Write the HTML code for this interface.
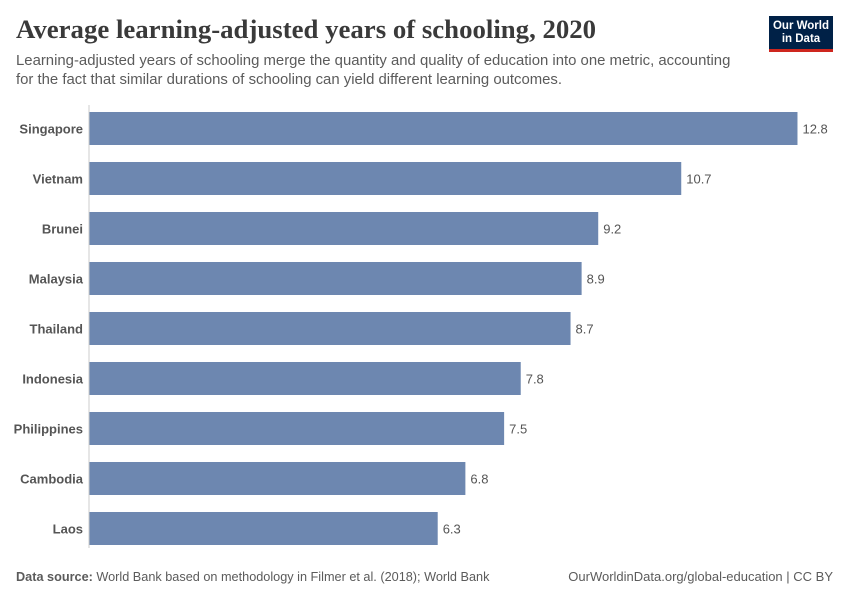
<!DOCTYPE html>
<html><head><meta charset="utf-8"><style>
body{margin:0;width:850px;height:600px;background:#fff;font-family:"Liberation Sans",sans-serif;position:relative;overflow:hidden}
.t{position:absolute;white-space:nowrap}
</style></head><body>
<div class="t" style="left:16px;top:14px;font-family:'Liberation Serif',serif;font-size:26.8px;font-weight:bold;color:#3a3a3a">Average learning-adjusted years of schooling, 2020</div>
<div class="t" style="left:16px;top:52px;font-size:14.9px;line-height:19px;color:#5b5b5b">Learning-adjusted years of schooling merge the quantity and quality of education into one metric, accounting<br>for the fact that similar durations of schooling can yield different learning outcomes.</div>
<div style="position:absolute;left:769px;top:16px;width:64px;height:36px;background:#002147;border-bottom:3px solid #ce261e;box-sizing:border-box;color:#fff;font-size:11.5px;line-height:13px;text-align:center;padding-top:4px;font-weight:bold">Our World<br>in Data</div>
<svg id="c" width="850" height="600" style="position:absolute;left:0;top:0"></svg>
<div class="t" style="left:16px;top:570px;font-size:12.7px;color:#5b5b5b"><b>Data source:</b> World Bank based on methodology in Filmer et al. (2018); World Bank</div>
<div class="t" style="right:17px;top:569px;font-size:13px;color:#5b5b5b">OurWorldinData.org/global-education | CC BY</div>
<script>
const countries=["Singapore","Vietnam","Brunei","Malaysia","Thailand","Indonesia","Philippines","Cambodia","Laos"];
const values=[12.8,10.7,9.2,8.9,8.7,7.8,7.5,6.8,6.3];
const svg=document.getElementById('c');const NS='http://www.w3.org/2000/svg';
const x0=89,k=55.35,y0=112,step=50,bh=33;
const xs=v=>x0+v*k;
function mk(t,a){const e=document.createElementNS(NS,t);for(const n in a)e.setAttribute(n,a[n]);svg.appendChild(e);return e;}
countries.forEach((c,i)=>{
 const y=y0+i*step;
 const r=mk('rect',{x:x0,y:y,width:xs(values[i])-x0,height:bh,fill:'#6d87b0'});
 
 
 const l=mk('text',{x:83,y:y+bh/2+5,'text-anchor':'end','font-size':13,'font-weight':'bold',fill:'#555','font-family':'Liberation Sans, sans-serif'});
 l.textContent=c;
 
 
 const v=mk('text',{x:xs(values[i])+5,y:y+bh/2+5,'font-size':13,fill:'#555','font-family':'Liberation Sans, sans-serif'});
 v.textContent=values[i];
 
 
});
const ax=mk('line',{x1:x0,x2:x0,y1:105,y2:548,stroke:'#ccc','stroke-width':1});


</script>
</body></html>
